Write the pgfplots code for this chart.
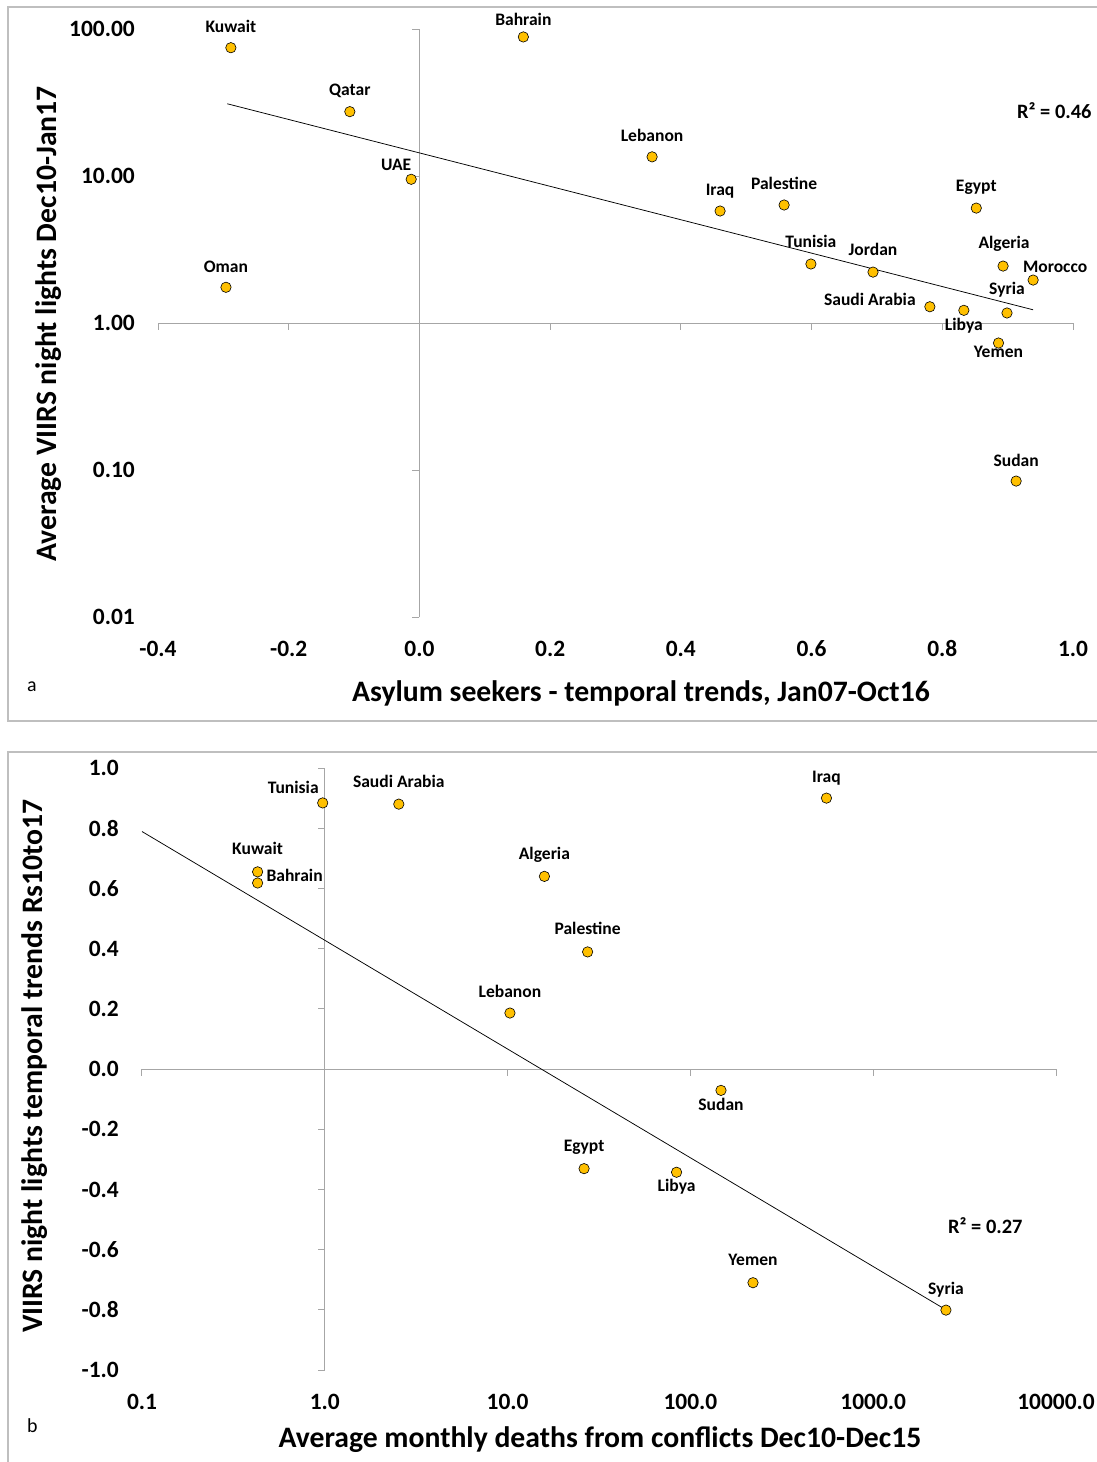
\documentclass[border=0pt]{standalone}
\usepackage{fontspec}
\setmainfont{Carlito}
\usepackage{pgfplots}
\pgfplotsset{compat=1.18}
\usepackage{pgfplotstable}
\definecolor{gold}{HTML}{FFC000}
\definecolor{axgray}{HTML}{A6A6A6}
\definecolor{framegray}{HTML}{BFBFBF}
\newcommand\fs[1]{\fontsize{#1}{#1}\selectfont}
\tikzset{axl/.style={axgray, line width=1bp}}

\pgfplotstableread[col sep=comma]{
x,y,label,dx,dy
-0.2885,74.6,Kuwait,0,15
-0.1065,27.4,Qatar,0,16
0.159,88.3,Bahrain,0,11
-0.0126,9.5,UAE,-15,9
-0.296,1.75,Oman,0,15
0.356,13.5,Lebanon,0,15
0.460,5.78,Iraq,0,16
0.558,6.35,Palestine,0,16
0.852,6.05,Egypt,0,17
0.599,2.52,Tunisia,0,17
0.694,2.22,Jordan,0,17
0.893,2.44,Algeria,1,18
0.939,1.96,Morocco,22,8
0.781,1.29,Saudi Arabia,-60,1
0.833,1.22,Libya,0,-20
0.899,1.17,Syria,0,18
0.886,0.731,Yemen,0,-14
0.913,0.0841,Sudan,0,15
}\tabA

\pgfplotstableread[col sep=comma]{
x,y,label,dx,dy
0.974,0.884,Tunisia,-29.5,9
2.54,0.880,Saudi Arabia,0,16.6
555,0.900,Iraq,0,16
0.429,0.655,Kuwait,0,17
0.429,0.618,Bahrain,37,1.6
15.9,0.640,Algeria,0,17
27.4,0.389,Palestine,0,17
10.3,0.186,Lebanon,0,16
147,-0.071,Sudan,0,-20
26.2,-0.331,Egypt,0,17
84,-0.343,Libya,0,-19
220,-0.710,Yemen,0,17
2500,-0.801,Syria,0,16
}\tabB

\pgfplotsset{
  mystyle/.style={scale only axis, clip=false, axis lines*=left,
    axis line style={draw=none}, tick style={draw=none}, major tick length=0pt,
    minor tick num=0,
    every tick label/.append style={font=\fs{23.5}\bfseries, inner sep=0pt},
    yticklabel style={anchor=east, xshift=-23bp},
    xticklabel style={anchor=base, yshift=-39bp},
  },
  pts/.style={only marks, mark=*, mark size=5.2bp,
    mark options={fill=gold, draw=black, line width=0.6bp},
    point meta=explicit symbolic, nodes near coords,
    visualization depends on={\thisrow{dx}\as\myDX},
    visualization depends on={\thisrow{dy}\as\myDY},
    every node near coord/.append style={anchor=base, xshift=\myDX*1bp, yshift=\myDY*1bp,
      font=\fs{17.6}\bfseries, inner sep=0pt, text=black}},
}

\begin{document}
\begin{tikzpicture}
\useasboundingbox (0bp,0bp) rectangle (1097bp,-1462bp);
\draw[framegray, line width=1.5bp] (8bp,-7bp) rectangle (1110bp,-721bp);
\draw[framegray, line width=1.5bp] (8bp,-752bp) rectangle (1110bp,-1475bp);

\begin{axis}[mystyle, at={(158bp,-617bp)}, anchor=south west,
  width=915bp, height=588bp,
  xmin=-0.4, xmax=1.0, ymode=log, ymin=0.01, ymax=100,
  xtick={-0.4,-0.2,0,0.2,0.4,0.6,0.8,1.0},
  xticklabels={-0.4,-0.2,0.0,0.2,0.4,0.6,0.8,1.0},
  ytick={0.01,0.1,1,10,100},
  yticklabels={0.01,0.10,1.00,10.00,100.00}]
\draw[axl] (axis cs:-0.4,1) -- (axis cs:1.0,1);
\draw[axl] (axis cs:0,0.01) -- (axis cs:0,100);
\draw[axl] (axis cs:-0.4,1) -- ([yshift=-7bp]axis cs:-0.4,1);
\draw[axl] (axis cs:-0.2,1) -- ([yshift=-7bp]axis cs:-0.2,1);
\draw[axl] (axis cs:0,1) -- ([yshift=-7bp]axis cs:0,1);
\draw[axl] (axis cs:0.2,1) -- ([yshift=-7bp]axis cs:0.2,1);
\draw[axl] (axis cs:0.4,1) -- ([yshift=-7bp]axis cs:0.4,1);
\draw[axl] (axis cs:0.6,1) -- ([yshift=-7bp]axis cs:0.6,1);
\draw[axl] (axis cs:0.8,1) -- ([yshift=-7bp]axis cs:0.8,1);
\draw[axl] (axis cs:1.0,1) -- ([yshift=-7bp]axis cs:1.0,1);
\draw[axl] (axis cs:0,0.01) -- ([xshift=-7bp]axis cs:0,0.01);
\draw[axl] (axis cs:0,0.1) -- ([xshift=-7bp]axis cs:0,0.1);
\draw[axl] (axis cs:0,1) -- ([xshift=-7bp]axis cs:0,1);
\draw[axl] (axis cs:0,10) -- ([xshift=-7bp]axis cs:0,10);
\draw[axl] (axis cs:0,100) -- ([xshift=-7bp]axis cs:0,100);
\addplot[pts] table[x=x, y=y, meta=label] {\tabA};
\addplot[black, line width=0.75bp] coordinates {(-0.294,31.0) (0.939,1.23)};
\end{axis}

\begin{axis}[mystyle, at={(142bp,-1370bp)}, anchor=south west,
  width=914bp, height=602bp,
  xmode=log, xmin=0.1, xmax=10000, ymin=-1, ymax=1,
  xtick={0.1,1,10,100,1000,10000},
  xticklabels={0.1,1.0,10.0,100.0,1000.0,10000.0},
  ytick={-1,-0.8,-0.6,-0.4,-0.2,0,0.2,0.4,0.6,0.8,1},
  yticklabels={-1.0,-0.8,-0.6,-0.4,-0.2,0.0,0.2,0.4,0.6,0.8,1.0}]
\draw[axl] (axis cs:0.1,0) -- (axis cs:10000,0);
\draw[axl] (axis cs:1,-1) -- (axis cs:1,1);
\draw[axl] (axis cs:0.1,0) -- ([yshift=-7bp]axis cs:0.1,0);
\draw[axl] (axis cs:1,0) -- ([yshift=-7bp]axis cs:1,0);
\draw[axl] (axis cs:10,0) -- ([yshift=-7bp]axis cs:10,0);
\draw[axl] (axis cs:100,0) -- ([yshift=-7bp]axis cs:100,0);
\draw[axl] (axis cs:1000,0) -- ([yshift=-7bp]axis cs:1000,0);
\draw[axl] (axis cs:10000,0) -- ([yshift=-7bp]axis cs:10000,0);
\draw[axl] (axis cs:1,-1) -- ([xshift=-7bp]axis cs:1,-1);
\draw[axl] (axis cs:1,-0.8) -- ([xshift=-7bp]axis cs:1,-0.8);
\draw[axl] (axis cs:1,-0.6) -- ([xshift=-7bp]axis cs:1,-0.6);
\draw[axl] (axis cs:1,-0.4) -- ([xshift=-7bp]axis cs:1,-0.4);
\draw[axl] (axis cs:1,-0.2) -- ([xshift=-7bp]axis cs:1,-0.2);
\draw[axl] (axis cs:1,0) -- ([xshift=-7bp]axis cs:1,0);
\draw[axl] (axis cs:1,0.2) -- ([xshift=-7bp]axis cs:1,0.2);
\draw[axl] (axis cs:1,0.4) -- ([xshift=-7bp]axis cs:1,0.4);
\draw[axl] (axis cs:1,0.6) -- ([xshift=-7bp]axis cs:1,0.6);
\draw[axl] (axis cs:1,0.8) -- ([xshift=-7bp]axis cs:1,0.8);
\draw[axl] (axis cs:1,1) -- ([xshift=-7bp]axis cs:1,1);
\addplot[pts] table[x=x, y=y, meta=label] {\tabB};
\addplot[black, line width=0.75bp] coordinates {(0.1,0.789) (2500,-0.80)};
\end{axis}

\node[anchor=base, inner sep=0pt, font=\fs{29.8}\bfseries] at (641bp,-701bp) {Asylum seekers - temporal trends, Jan07-Oct16};
\node[anchor=base, rotate=90, inner sep=0pt, font=\fs{29.8}\bfseries] at (56bp,-324bp) {Average VIIRS night lights Dec10-Jan17};
\node[anchor=base, inner sep=0pt, font=\fs{29.8}\bfseries] at (600bp,-1447bp) {Average monthly deaths from conflicts Dec10-Dec15};
\node[anchor=base, rotate=90, inner sep=0pt, font=\fs{29.8}\bfseries] at (42bp,-1066bp) {VIIRS night lights temporal trends Rs10to17};
\node[anchor=base west, inner sep=0pt, font=\fs{20.5}\bfseries] at (1017bp,-118bp) {R² = 0.46};
\node[anchor=base west, inner sep=0pt, font=\fs{20.5}\bfseries] at (948bp,-1233bp) {R² = 0.27};
\node[anchor=base west, inner sep=0pt, font=\fs{20}] at (27bp,-691bp) {a};
\node[anchor=base west, inner sep=0pt, font=\fs{20}] at (27bp,-1432bp) {b};
\end{tikzpicture}
\end{document}
